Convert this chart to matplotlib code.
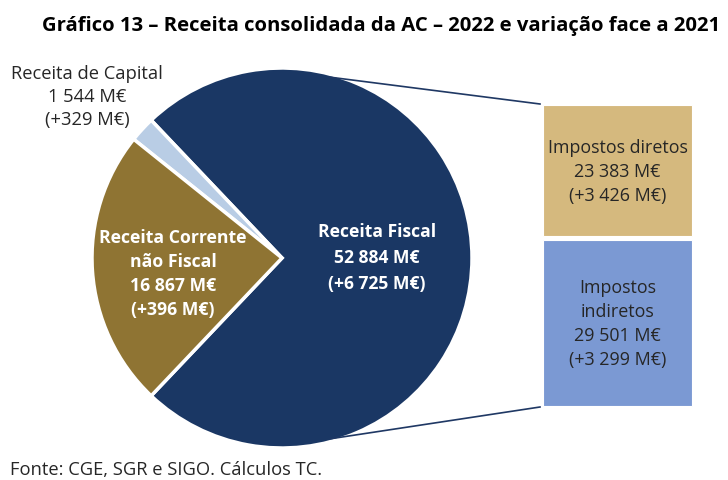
import numpy as np
import matplotlib
matplotlib.use("Agg")
import matplotlib.pyplot as plt

plt.rcParams['font.family'] = ['Open Sans', 'DejaVu Sans']

# ---- data ----
pie_labels = ["Receita Fiscal", "Receita de Capital", "Receita Corrente\nnão Fiscal"]
pie_values = [52884, 1544, 16867]
pie_changes = [6725, 329, 396]
bar_labels = ["Impostos\nindiretos", "Impostos diretos"]
bar_values = [29501, 23383]
bar_changes = [3299, 3426]

title = "Gráfico 13 – Receita consolidada da AC – 2022 e variação face a 2021"
source = "Fonte: CGE, SGR e SIGO. Cálculos TC."

pie_colors = ["#1A3764", "#B9CDE5", "#8F7433"]
bar_colors = ["#7B99D3", "#D5B97E"]

def fmt(v):
    return f"{v:,}".replace(",", " ")

W, H = 728, 481
fig = plt.figure(figsize=(W / 100, H / 100), dpi=100)
ax = fig.add_axes([0, 0, 1, 1])

def Y(y):  # image y -> data y
    return H - y

# ---- pie ----
cx, cy, r = 282, Y(259), 190
total = sum(pie_values)
start = -pie_values[0] / total * 360 / 2
wedges, _ = ax.pie(pie_values, colors=pie_colors, startangle=start,
                   counterclock=True, center=(cx, cy), radius=r, frame=True,
                   wedgeprops=dict(edgecolor='white', linewidth=2.5))
ax.set_xlim(0, W)
ax.set_ylim(0, H)
ax.set_aspect('equal')
ax.axis('off')

# ---- bar ----
bx0, bx1 = 543, 692
btop, bbot = 106, 407
gap = 4
scale = (bbot - btop - gap) / sum(bar_values)
bottom = Y(bbot)
rects = []
for i, (v, c) in enumerate(zip(bar_values, bar_colors)):
    h = v * scale
    ax.bar((bx0 + bx1) / 2, h, width=bx1 - bx0, bottom=bottom, color=c,
           edgecolor='white', linewidth=0.8)
    rects.append((bottom, h))
    bottom += h + gap

# ---- connector lines ----
ang = np.deg2rad(75)
p_top = (cx + r * np.cos(ang) * 0.985, cy + r * np.sin(ang) * 0.985)
p_bot = (cx + r * np.cos(-ang) * 0.985, cy + r * np.sin(-ang) * 0.985)
ax.plot([p_top[0], bx0 - 3], [p_top[1], Y(btop) + 1], color="#1F3864", lw=1.2)
ax.plot([p_bot[0], bx0 - 3], [p_bot[1], Y(bbot) - 1], color="#1F3864", lw=1.2)

# ---- labels ----
ax.text(381, Y(26), title, ha='center', va='center', fontsize=14.6,
        fontweight='bold', color='black')
ax.text(377, Y(258), f"{pie_labels[0]}\n{fmt(pie_values[0])} M€\n(+{fmt(pie_changes[0])} M€)",
        ha='center', va='center', fontsize=12.6, fontweight='bold', color='white',
        linespacing=1.55)
ax.text(173, Y(274), f"{pie_labels[2]}\n{fmt(pie_values[2])} M€\n(+{fmt(pie_changes[2])} M€)",
        ha='center', va='center', fontsize=12.7, fontweight='bold', color='white',
        linespacing=1.42)
ax.text(87, Y(97), f"{pie_labels[1]}\n{fmt(pie_values[1])} M€\n(+{fmt(pie_changes[1])} M€)",
        ha='center', va='center', fontsize=13.2, color='#262626', linespacing=1.37)
for lab, v, ch, (b, h) in zip(bar_labels, bar_values, bar_changes, rects):
    ax.text((bx0 + bx1) / 2, b + h / 2, f"{lab}\n{fmt(v)} M€\n(+{fmt(ch)} M€)",
            ha='center', va='center', fontsize=12.9, color='#262626',
            linespacing=1.42)

ax.text(10, Y(470), source, ha='left', va='center', fontsize=13.2, color='#262626')

fig.savefig("out.png", dpi=100)
